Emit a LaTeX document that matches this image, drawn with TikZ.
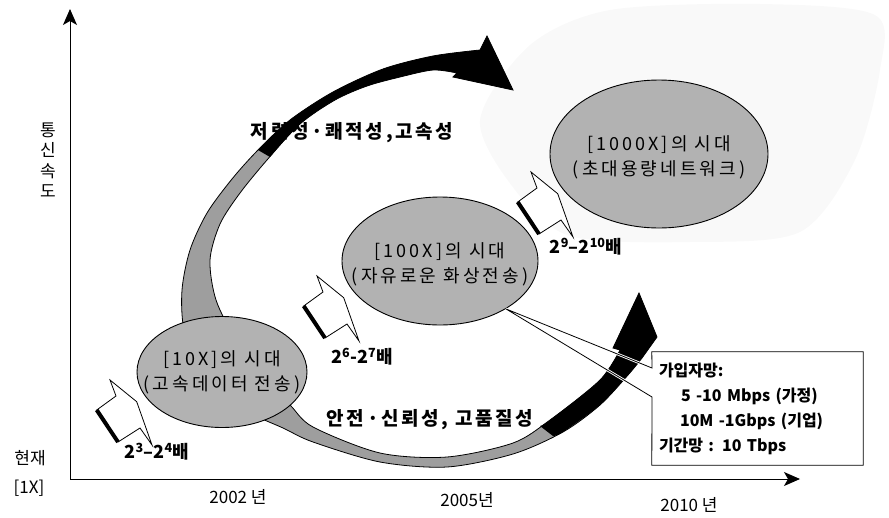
\documentclass[tikz,border=0pt]{standalone}
\usepackage{fontspec}
\setmainfont{Noto Sans CJK KR}
\usetikzlibrary{arrows.meta}
\usetikzlibrary{shapes.geometric}
\colorlet{eragray}{black!30}
\colorlet{bandgray}{black!38}
\colorlet{hazegray}{black!2.5}
\newcommand\fs[2]{\fontsize{#1}{#2}\selectfont}
\tikzstyle{era}=[ellipse,draw,line width=.9pt,fill=eragray,inner sep=0pt]
\tikzstyle{eratext}=[align=center,inner sep=0pt,font=\fs{18}{25}\addfontfeature{LetterSpace=17}]
\tikzstyle{axis}=[line width=1pt,{Stealth[length=16pt,width=14pt,inset=4pt]}-{Stealth[length=16pt,width=14pt,inset=4pt]}]
\tikzstyle{axislabel}=[inner sep=0pt,align=center,font=\fs{17}{20.5}]
\tikzstyle{gain}=[inner sep=0pt,font=\bfseries\fs{18}{20}]
\tikzstyle{quality}=[inner sep=0pt,font=\bfseries\fs{19}{22}\addfontfeature{LetterSpace=14}]
\tikzstyle{stepbody}=[draw,fill=white,line width=.8pt,line join=miter]
\tikzstyle{steptail}=[line width=4pt]
\tikzstyle{band}=[draw,fill=bandgray,line width=.8pt]
\tikzstyle{infobox}=[minimum width=211pt,minimum height=113pt,text width=197pt,inner sep=7pt,align=left,font=\bfseries\fs{16}{25}]
\tikzstyle{callout}=[line width=.8pt]
\tikzstyle{halo}=[white,line width=2.6pt]
\newcommand\stepArrow[1]{%
  \begin{scope}[shift={#1}]
    \draw[stepbody] (0,0) -- (19.3,-14) -- (13.3,-30) -- (40,-8.3) -- (55.3,35) -- (43.3,18) -- (21.3,32) -- cycle;
    \draw[steptail] (0,0) -- (21.3,32);
  \end{scope}}

\begin{document}
\begin{tikzpicture}[x=1pt,y=-1pt]
  \useasboundingbox (0,0) rectangle (889,517);
  % faint haze behind the last era
  \fill[hazegray] plot[smooth cycle] coordinates {(480,120) (530,45) (610,10) (760,4) (875,15) (880,70) (855,160) (800,232) (690,242) (570,236) (515,190)};
  % axes
  \coordinate (ytop) at (70,9);
  \coordinate (o) at (70,479);
  \coordinate (xend) at (800,479);
  \draw[axis] (ytop) -- (o) -- (xend);
  \node[axislabel] (speed) at (48,160) {통\\신\\속\\도};
  \node[axislabel] (now) at (30,458) {현재};
  \node[axislabel] (onex) at (29,488) {[1X]};
  \node[axislabel] (y2002) at (238,497) {2002 년};
  \node[axislabel] (y2005) at (467,500) {2005년};
  \node[axislabel] (y2010) at (689,505) {2010 년};

  % swirl band
  \path[band] plot[smooth] coordinates {(480,50) (433,56) (383,69) (333,92) (290,120) (258,150) (232,179) (207,213) (190,250) (182,290) (184,330) (200,375) (240,408) (283,428) (313,442) (380,462) (447,467) (513,454) (563,432) (600,405) (628,375) (642,358)}
    -- (657,337) -- (639,293) -- (613,348)
    -- plot[smooth] coordinates {(620,350) (600,380) (550,420) (513,443) (447,457) (380,453) (313,427) (290,405) (262,378) (236,340) (216,300) (210,260) (220,224) (240,193) (267,160) (300,124) (335,100) (367,86) (400,77) (433,70) (457,73)}
    -- (453,77) -- (513,90) -- (487,36) -- cycle;
  \fill plot[smooth] coordinates {(258,150) (290,120) (333,92) (383,69) (433,56) (480,50)}
    -- (487,36) -- (513,90) -- (453,77)
    -- plot[smooth] coordinates {(457,73) (433,70) (400,77) (367,86) (335,100) (300,124) (270,157)} -- cycle;
  \fill plot[smooth] coordinates {(553,436) (563,432) (600,405) (628,375) (642,358)}
    -- (657,337) -- (639,293) -- (613,348)
    -- plot[smooth] coordinates {(620,350) (600,380) (550,420) (540,426)} -- cycle;

  % eras
  \node[era,minimum width=170pt,minimum height=111pt] (e10) at (222,372) {};
  \node[eratext] (e10t) at (e10) {[10X]의 시대\\(고속데이터 전송)};
  \node[era,minimum width=196pt,minimum height=128pt] (e100) at (440,261) {};
  \node[eratext] (e100t) at ([yshift=-3pt]e100.center) {[100X]의 시대\\(자유로운 화상전송)};
  \node[era,minimum width=218pt,minimum height=148pt] (e1000) at (659,154) {};
  \node[eratext] (e1000t) at ([yshift=-3pt]e1000.center) {[1000X]의 시대\\(초대용량네트워크)};

  % steps
  \stepArrow{(96.7,410)}
  \stepArrow{(303.7,306)}
  \stepArrow{(517.7,202)}
  \node[gain] (g1) at (157,452) {2\textsuperscript{3}–2\textsuperscript{4}배};
  \node[gain] (g2) at (362,357) {2\textsuperscript{6}-2\textsuperscript{7}배};
  \node[gain] (g3) at (586,247) {2\textsuperscript{9}–2\textsuperscript{10}배};

  \node[quality] (q1) at (352,133) {저렴성·쾌적성,고속성};
  \node[quality] (q2) at (430,420) {안전·신뢰성, 고품질성};

  % network box
  \node[infobox] (info) at (757.5,408.5) {가입자망:\\
    \hspace*{22pt}5 -10 Mbps (가정)\\
    \hspace*{21pt}10M -1Gbps (기업)\\
    기간망 : 10 Tbps};
  \coordinate (gapT) at (652,368);
  \coordinate (gapB) at (652,397);
  \draw[halo] (gapT) -- (e100.-36) -- (gapB);
  \draw[callout] (gapT) -- (info.north west) -- (info.north east) -- (info.south east) -- (info.south west) -- (gapB) -- (e100.-36) -- cycle;
\end{tikzpicture}
\end{document}
